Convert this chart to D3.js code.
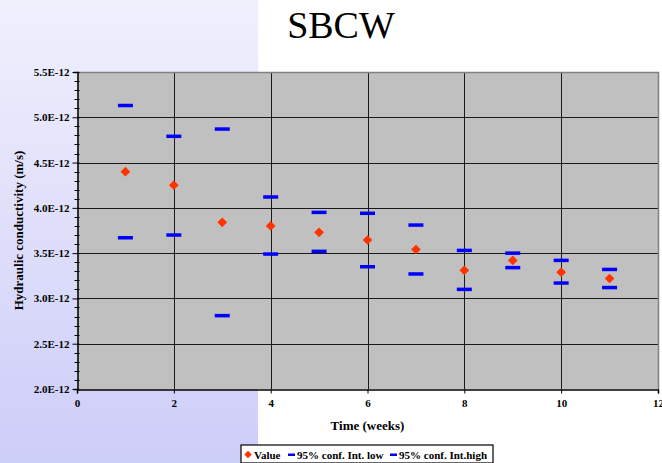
<!DOCTYPE html>
<html>
<head>
<meta charset="utf-8">
<script src="https://cdn.jsdelivr.net/npm/d3@7"></script>
<style>
  html, body { margin: 0; padding: 0; background: #fff; }
  svg { display: block; }
</style>
</head>
<body>
<svg id="chart" width="662" height="463"></svg>
<script>
// Week numbers and hydraulic conductivity (units of 1E-12 m/s)
const weeks = [1, 2, 3, 4, 5, 6, 7, 8, 9, 10, 11];
const values = [4.40, 4.25, 3.84, 3.80, 3.73, 3.645, 3.54, 3.31, 3.42, 3.29, 3.22];
const confLow = [3.67, 3.70, 2.81, 3.49, 3.52, 3.35, 3.27, 3.10, 3.34, 3.17, 3.12];
const confHigh = [5.13, 4.79, 4.87, 4.12, 3.95, 3.94, 3.81, 3.53, 3.50, 3.42, 3.32];
const xTicks = [0, 2, 4, 6, 8, 10, 12];
const yTicks = [2.0, 2.5, 3.0, 3.5, 4.0, 4.5, 5.0, 5.5];
const legendLabels = ["Value", "95% conf. Int. low", "95% conf. Int.high"];

const FONT = "'Liberation Serif', 'Times New Roman', serif";
const svg = d3.select("#chart");
const W = 662, H = 463;
const m = { left: 77, right: 4, top: 72, bottom: 74 };
const pw = W - m.left - m.right, ph = H - m.top - m.bottom;

function styleText(sel, size, bold = true) {
  return sel.attr("font-family", null).style("font-family", FONT).style("font-size", size + "px")
    .style("font-weight", bold ? "bold" : "normal").attr("fill", "#000");
}

// backdrop: lavender band on the left
const defs = svg.append("defs");
const grad = defs.append("linearGradient").attr("id", "bg").attr("x1", 0).attr("y1", 0).attr("x2", 0).attr("y2", 1);
grad.append("stop").attr("offset", 0).attr("stop-color", "#f0f0fd");
grad.append("stop").attr("offset", 1).attr("stop-color", "#cdcdf9");
svg.append("rect").attr("width", W).attr("height", H).attr("fill", "#fff");
svg.append("rect").attr("width", 258).attr("height", H).attr("fill", "url(#bg)");

styleText(svg.append("text").attr("x", 341).attr("y", 38).attr("text-anchor", "middle").text("SBCW"), 38, false);

const x = d3.scaleLinear().domain([0, 12]).range([m.left, m.left + pw]);
const y = d3.scaleLinear().domain([2.0, 5.5]).range([m.top + ph, m.top]);

const g = svg.append("g");
g.append("rect").attr("x", x(0)).attr("y", y(5.5)).attr("width", x(12) - x(0)).attr("height", y(2.0) - y(5.5))
  .attr("fill", "#c0c0c0");

// gridlines
g.selectAll(".hg").data(yTicks.slice(1, -1)).join("line")
  .attr("x1", x(0)).attr("x2", x(12)).attr("y1", d => Math.round(y(d)) + 0.5).attr("y2", d => Math.round(y(d)) + 0.5)
  .attr("stroke", "#1a1a1a").attr("stroke-width", 1);
g.selectAll(".vg").data(xTicks.slice(1, -1)).join("line")
  .attr("y1", y(5.5)).attr("y2", y(2.0)).attr("x1", d => Math.round(x(d)) + 0.5).attr("x2", d => Math.round(x(d)) + 0.5)
  .attr("stroke", "#1a1a1a").attr("stroke-width", 1);

// frame: grey top/right
g.append("path").attr("d", `M${x(0)},${Math.round(y(5.5)) + 0.5}H${Math.round(x(12)) + 0.5}V${y(2.0)}`)
  .attr("fill", "none").attr("stroke", "#808080").attr("stroke-width", 1.5);

// y axis
const yAxis = d3.axisLeft(y).tickValues(yTicks).tickSize(4).tickPadding(4)
  .tickFormat(d => d.toFixed(1) + "E-12");
const ya = svg.append("g").attr("transform", `translate(${Math.round(x(0)) + 0.5},0)`).call(yAxis);
ya.attr("font-family", null);
ya.select(".domain").attr("stroke", "#000").attr("stroke-width", 1.5);
ya.selectAll(".tick line").attr("stroke", "#000").attr("x2", -5).attr("x1", 2);
styleText(ya.selectAll("text"), 11);
const minor = d3.range(20, 55).map(v => v / 10).filter(v => Math.abs(v * 2 - Math.round(v * 2)) > 1e-6);
ya.selectAll(".minor").data(minor).join("line")
  .attr("x1", -3).attr("x2", 2).attr("y1", d => Math.round(y(d)) + 0.5).attr("y2", d => Math.round(y(d)) + 0.5)
  .attr("stroke", "#000");

// x axis
const xAxis = d3.axisBottom(x).tickValues(xTicks).tickSize(4).tickPadding(6).tickFormat(d3.format("d"));
const xa = svg.append("g").attr("transform", `translate(0,${Math.round(y(2.0)) + 0.5})`).call(xAxis);
xa.attr("font-family", null);
xa.select(".domain").attr("stroke", "#000").attr("stroke-width", 1.5);
xa.selectAll(".tick line").attr("stroke", "#000");
styleText(xa.selectAll("text"), 11);

styleText(svg.append("text").attr("x", x(6)).attr("y", 430).attr("text-anchor", "middle").text("Time (weeks)"), 13);
styleText(svg.append("text").attr("transform", `translate(23,${(y(5.5) + y(2.0)) / 2}) rotate(-90)`).attr("text-anchor", "middle")
  .text("Hydraulic conductivity (m/s)"), 13);

// marks
const dashW = 15, dashH = 3.5;
function dashes(data) {
  g.append("g").selectAll("rect").data(data).join("rect")
    .attr("x", (d, i) => x(weeks[i]) - dashW / 2).attr("y", d => y(d) - dashH / 2)
    .attr("width", dashW).attr("height", dashH).attr("fill", "#0000ff");
}
dashes(confLow);
dashes(confHigh);
const diamond = d3.symbol().type(d3.symbolDiamond2).size(60);
g.append("g").selectAll("path").data(values).join("path")
  .attr("transform", (d, i) => `translate(${x(weeks[i])},${y(d)})`)
  .attr("d", diamond).attr("fill", "#ff3300");

// legend
const lg = svg.append("g").attr("transform", "translate(241,445)");
lg.append("rect").attr("width", 252).attr("height", 18).attr("fill", "#fff").attr("stroke", "#000").attr("stroke-width", 1.2);
lg.append("path").attr("transform", "translate(7,9.5)").attr("d", d3.symbol().type(d3.symbolDiamond2).size(36)).attr("fill", "#ff3300");
const lgX = [13, 56, 158];
lg.selectAll(".dash").data([1, 2]).join("rect")
  .attr("x", d => lgX[d] - 9).attr("y", 8.5).attr("width", 7).attr("height", 2.5).attr("fill", "#0000ff");
styleText(lg.selectAll("text").data(legendLabels).join("text")
  .attr("x", (d, i) => lgX[i]).attr("y", 13.5).text(d => d), 11);
</script>
</body>
</html>
